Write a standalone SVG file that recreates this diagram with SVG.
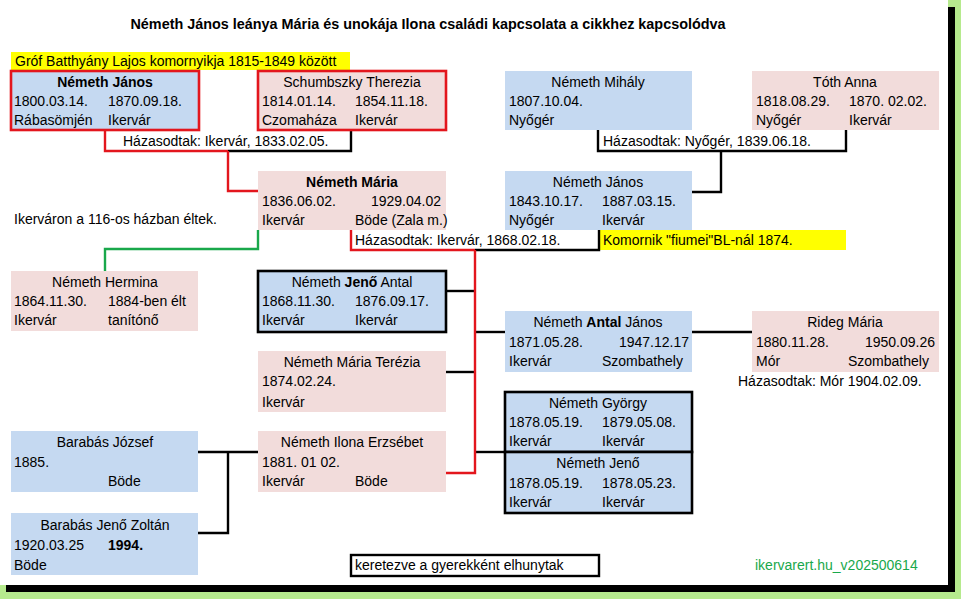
<svg xmlns="http://www.w3.org/2000/svg" width="961" height="599" viewBox="0 0 961 599">
<style>
text{font-family:"Liberation Sans",Arial,sans-serif;font-size:14px;fill:#000}
.t{font-size:14.4px;font-weight:bold}
.b{font-weight:bold}
.c{text-anchor:middle}
.r{text-anchor:end}
.blue{fill:#c5d9f1}
.pink{fill:#f2dcdb}
.rb{stroke:#e3161d;stroke-width:2.6}
.kb{stroke:#000;stroke-width:2.6}
.ln{fill:none;stroke:#000;stroke-width:2.4}
.red{fill:none;stroke:#e3161d;stroke-width:2.4}
.grn{fill:none;stroke:#19a84b;stroke-width:2.4}
</style>
<rect x="0" y="0" width="961" height="599" fill="#b6ea8e"/>
<rect x="6" y="7" width="949" height="585" fill="#000"/>
<rect x="0" y="0" width="948" height="585" fill="#fff"/>

<text class="t c" x="428" y="29">Németh János leánya Mária és unokája Ilona családi kapcsolata a cikkhez kapcsolódva</text>

<rect x="11" y="52" width="339" height="18" fill="#ffff00"/>
<text x="15" y="66">Gróf Batthyány Lajos komornyikja 1815-1849 között</text>
<rect x="599" y="230" width="247" height="20" fill="#ffff00"/>
<text x="603" y="245">Komornik "fiumei"BL-nál 1874.</text>

<text x="14" y="224">Ikerváron a 116-os házban éltek.</text>
<text x="123" y="146">Házasodtak: Ikervár, 1833.02.05.</text>
<text x="355" y="245">Házasodtak: Ikervár, 1868.02.18.</text>
<text x="603" y="146">Házasodtak: Nyőgér, 1839.06.18.</text>
<text x="738" y="386">Házasodtak: Mór 1904.02.09.</text>

<g id="connectors">
<path class="red" d="M105,130 V151 H228"/>
<path class="ln" d="M228,151 H351 V130"/>
<path class="red" d="M228,151 V191 H258"/>
<path class="grn" d="M258,230 V249 H105 V271"/>
<path class="red" d="M351,230 V250 H475"/>
<path class="ln" d="M475,250 H599 V230"/>
<path class="ln" d="M598,130 V151 H846 V130"/>
<path class="ln" d="M721,151 V192 H692"/>
<path class="ln" d="M445,291 H475"/>
<path class="ln" d="M475,332 H505"/>
<path class="ln" d="M445,372 H475"/>
<path class="ln" d="M475,452 H505"/>
<path class="red" d="M475,250 V473 H445"/>
<path class="ln" d="M692,332 H752"/>
<path class="ln" d="M198,452 H258"/>
<path class="ln" d="M228,452 V533 H198"/>
</g>

<g id="nemeth-janos-1">
<rect x="11" y="71" width="188" height="59" class="blue rb"/>
<text class="c b" x="105" y="87">Németh János</text>
<text x="14" y="106">1800.03.14.</text><text x="108" y="106">1870.09.18.</text>
<text x="14" y="125">Rábasömjén</text><text x="108" y="125">Ikervár</text>
</g>

<g id="schumbszky-therezia">
<rect x="258" y="71" width="188" height="59" class="pink rb"/>
<text class="c" x="352" y="87">Schumbszky Therezia</text>
<text x="262" y="106">1814.01.14.</text><text x="355" y="106">1854.11.18.</text>
<text x="262" y="125">Czomaháza</text><text x="355" y="125">Ikervár</text>
</g>

<g id="nemeth-mihaly">
<rect x="505" y="71" width="187" height="59" class="blue"/>
<text class="c" x="598" y="87">Németh Mihály</text>
<text x="509" y="106">1807.10.04.</text>
<text x="509" y="125">Nyőgér</text>
</g>

<g id="toth-anna">
<rect x="752" y="71" width="187" height="59" class="pink"/>
<text class="c" x="845" y="87">Tóth Anna</text>
<text x="756" y="106">1818.08.29.</text><text x="849" y="106">1870. 02.02.</text>
<text x="756" y="125">Nyőgér</text><text x="849" y="125">Ikervár</text>
</g>

<g id="nemeth-maria">
<rect x="258" y="171" width="188" height="59" class="pink"/>
<text class="c b" x="352" y="187">Németh Mária</text>
<text x="262" y="206">1836.06.02.</text><text class="r" x="441" y="206">1929.04.02</text>
<text x="262" y="225">Ikervár</text><text x="355" y="225">Böde (Zala m.)</text>
</g>

<g id="nemeth-janos-2">
<rect x="505" y="171" width="187" height="59" class="blue"/>
<text class="c" x="598" y="187">Németh János</text>
<text x="509" y="206">1843.10.17.</text><text x="602" y="206">1887.03.15.</text>
<text x="509" y="225">Nyőgér</text><text x="602" y="225">Ikervár</text>
</g>

<g id="nemeth-hermina">
<rect x="11" y="271" width="187" height="60" class="pink"/>
<text class="c" x="105" y="287">Németh Hermina</text>
<text x="14" y="306">1864.11.30.</text><text x="108" y="306">1884-ben élt</text>
<text x="14" y="325">Ikervár</text><text x="108" y="325">tanítónő</text>
</g>

<g id="nemeth-jeno-antal">
<rect x="258" y="271" width="188" height="61" class="blue kb"/>
<text class="c" x="352" y="287">Németh <tspan class="b">Jenő</tspan> Antal</text>
<text x="262" y="306">1868.11.30.</text><text x="355" y="306">1876.09.17.</text>
<text x="262" y="325">Ikervár</text><text x="355" y="325">Ikervár</text>
</g>

<g id="nemeth-antal-janos">
<rect x="505" y="311" width="187" height="61" class="blue"/>
<text class="c" x="598" y="327">Németh <tspan class="b">Antal</tspan> János</text>
<text x="509" y="347">1871.05.28.</text><text class="r" x="689" y="347">1947.12.17</text>
<text x="509" y="366">Ikervár</text><text x="602" y="366">Szombathely</text>
</g>

<g id="rideg-maria">
<rect x="752" y="311" width="187" height="61" class="pink"/>
<text class="c" x="845" y="327">Rideg Mária</text>
<text x="756" y="347">1880.11.28.</text><text class="r" x="935" y="347">1950.09.26</text>
<text x="756" y="366">Mór</text><text x="848" y="366">Szombathely</text>
</g>

<g id="nemeth-maria-terezia">
<rect x="258" y="351" width="188" height="61" class="pink"/>
<text class="c" x="352" y="367">Németh Mária Terézia</text>
<text x="262" y="386">1874.02.24.</text>
<text x="262" y="407">Ikervár</text>
</g>

<g id="nemeth-gyorgy">
<rect x="505" y="392" width="187" height="60" class="blue kb"/>
<text class="c" x="598" y="408">Németh György</text>
<text x="509" y="427">1878.05.19.</text><text x="602" y="427">1879.05.08.</text>
<text x="509" y="446">Ikervár</text><text x="602" y="446">Ikervár</text>
</g>

<g id="nemeth-jeno">
<rect x="505" y="452" width="187" height="61" class="blue kb"/>
<text class="c" x="598" y="468">Németh Jenő</text>
<text x="509" y="488">1878.05.19.</text><text x="602" y="488">1878.05.23.</text>
<text x="509" y="507">Ikervár</text><text x="602" y="507">Ikervár</text>
</g>

<g id="barabas-jozsef">
<rect x="11" y="431" width="187" height="61" class="blue"/>
<text class="c" x="105" y="447">Barabás József</text>
<text x="14" y="467">1885.</text>
<text x="108" y="486">Böde</text>
</g>

<g id="nemeth-ilona-erzsebet">
<rect x="258" y="431" width="188" height="61" class="pink"/>
<text class="c" x="352" y="447">Németh Ilona Erzsébet</text>
<text x="262" y="467">1881. 01 02.</text>
<text x="262" y="486">Ikervár</text><text x="355" y="486">Böde</text>
</g>

<g id="barabas-jeno-zoltan">
<rect x="11" y="513" width="187" height="62" class="blue"/>
<text class="c" x="105" y="530">Barabás Jenő Zoltán</text>
<text x="14" y="550">1920.03.25</text><text class="b" x="108" y="550">1994.</text>
<text x="14" y="570">Böde</text>
</g>

<g id="legend">
<rect x="351" y="555" width="248" height="21" fill="#fff" stroke="#000" stroke-width="2.4"/>
<text x="355" y="570">keretezve a gyerekként elhunytak</text>
</g>
<text x="755" y="570" style="fill:#19a84b">ikervarert.hu_v202500614</text>
</svg>
